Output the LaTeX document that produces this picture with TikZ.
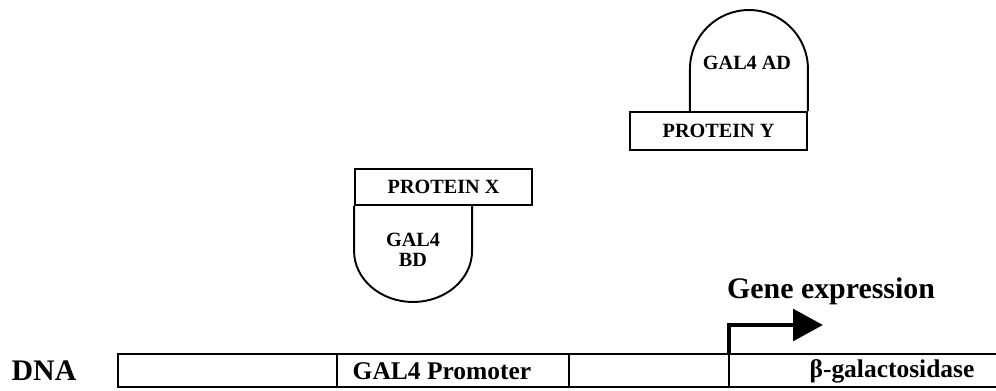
\documentclass[tikz,border=0pt]{standalone}
\usepackage{fontspec}
\setmainfont{Liberation Serif}
\usetikzlibrary{arrows.meta,positioning}

\begin{document}
\begin{tikzpicture}[x=0.02cm,y=0.02cm,line width=1.1pt,
  prot/.style={draw,minimum width=3.54cm,inner sep=0pt,font=\bfseries\fontsize{11.5}{12}\selectfont},
  seg/.style={draw,minimum height=0.66cm,inner sep=0pt,outer sep=0pt},
  big/.style={font=\bfseries\fontsize{14.5}{16}\selectfont}]
\useasboundingbox (0,0) rectangle (996,391);

% the two fusion proteins
\node[prot,minimum height=0.72cm](px) at (443.5,204) {PROTEIN X};
\node[prot,minimum height=0.76cm](py) at (718.5,260) {PROTEIN Y};
\draw (px.south west) -- ++(0,-45) arc[start angle=180,end angle=360,x radius=59,y radius=51] -- ++(0,45);
\draw (py.north east) -- ++(0,42) arc[start angle=0,end angle=180,radius=59] -- ++(0,-42);
\node[align=center,font=\bfseries\fontsize{11.5}{11}\selectfont](bd) at (413,141) {GAL4\\BD};
\node[font=\bfseries\fontsize{11.5}{12}\selectfont](ad) at (747,328) {GAL4 AD};

% DNA
\node[seg,minimum width=4.38cm](s1) at (227.5,20.5) {};
\node[seg,minimum width=4.64cm,right=0pt of s1](s2) {};
\node[seg,minimum width=3.2cm,right=0pt of s2](s3) {};
\node[seg,minimum width=5.42cm,right=0pt of s3](s4) {};
\node[font=\bfseries\fontsize{17}{18}\selectfont](dna) at (44,20) {DNA};
\node[big](prom) at (442,20) {GAL4 Promoter};
\node[big](lacz) at (892,20) {β-galactosidase};

% transcription start
\coordinate (tss) at (s4.north west);
\draw[-{Triangle[length=17pt,width=18pt]},line width=2.2pt] (tss) -- ++(0,29) -- ++(94,0);
\node[font=\bfseries\fontsize{17}{18}\selectfont](gene) at (831,100) {Gene expression};
\end{tikzpicture}
\end{document}
